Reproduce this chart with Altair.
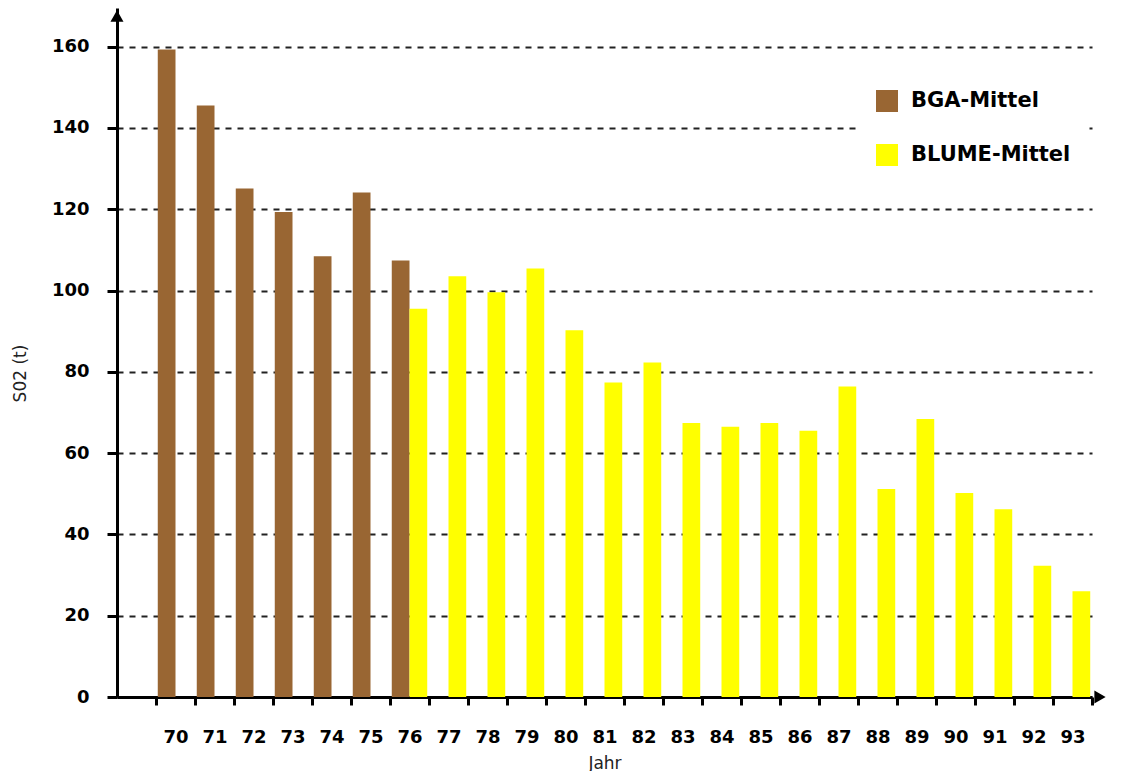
import altair as alt
import pandas as pd

years = [str(y) for y in range(70, 94)]

bga_years = ["70", "71", "72", "73", "74", "75", "76"]
bga_values = [159.3, 145.5, 125.1, 119.3, 108.4, 124.1, 107.4]

blume_years = ["76", "77", "78", "79", "80", "81", "82", "83", "84",
               "85", "86", "87", "88", "89", "90", "91", "92", "93"]
blume_values = [95.5, 103.5, 99.6, 105.4, 90.2, 77.4, 82.3, 67.4, 66.5,
                67.4, 65.5, 76.4, 51.2, 68.4, 50.2, 46.2, 32.3, 26.0]

series_names = ["BGA-Mittel", "BLUME-Mittel"]
series_colors = ["#996633", "#FFFF00"]
y_ticks = [0, 20, 40, 60, 80, 100, 120, 140, 160]

rows = [{"Jahr": y, "Reihe": series_names[0], "SO2": v} for y, v in zip(bga_years, bga_values)]
rows += [{"Jahr": y, "Reihe": series_names[1], "SO2": v} for y, v in zip(blume_years, blume_values)]
df = pd.DataFrame(rows)

W = 975
H = 689

bars = alt.Chart(df).mark_bar(opacity=1, strokeWidth=0).encode(
    x=alt.X("Jahr:N", sort=years,
            scale=alt.Scale(domain=years, paddingInner=0, paddingOuter=0.5, align=1),
            axis=alt.Axis(title="Jahr", labelAngle=0, tickBand="extent",
                          tickSize=8, tickWidth=3, tickColor="black",
                          domainColor="black", domainWidth=3,
                          labelPadding=23, titlePadding=9, grid=False)),
    xOffset=alt.XOffset("Reihe:N", sort=series_names,
                        scale=alt.Scale(domain=series_names, paddingInner=0, paddingOuter=0.1)),
    y=alt.Y("SO2:Q",
            scale=alt.Scale(domain=[0, 169.5], nice=False, zero=True),
            axis=alt.Axis(title="S02 (t)", values=y_ticks, tickSize=10, tickWidth=3,
                          tickColor="black", domainColor="black", domainWidth=3,
                          labelPadding=18, titlePadding=22, titleY=365,
                          grid=True, gridColor="#222222", gridDash=[6, 6], gridWidth=2)),
    color=alt.Color("Reihe:N",
                    scale=alt.Scale(domain=series_names, range=series_colors),
                    legend=alt.Legend(title=None, orient="none", legendX=742, legendY=65,
                                      fillColor="white", padding=17, symbolType="square",
                                      symbolSize=484, symbolStrokeWidth=0, symbolOpacity=1,
                                      rowPadding=32, labelOffset=13,
                                      labelFont="DejaVu Sans", labelFontWeight="bold",
                                      labelFontSize=21, labelColor="black")),
)

arrow_src = alt.Data(values=[{"a": 1}])
y_arrow = alt.Chart(arrow_src).mark_point(
    shape="triangle-up", filled=True, color="black", size=170, opacity=1
).encode(x=alt.value(0), y=alt.value(8))
x_arrow = alt.Chart(arrow_src).mark_point(
    shape="triangle-right", filled=True, color="black", size=170, opacity=1
).encode(x=alt.value(W + 8), y=alt.value(H))

chart = alt.layer(bars, y_arrow, x_arrow).properties(
    width=W, height=H,
    padding={"left": 3, "top": 0, "right": 2, "bottom": 0},
    background="white",
).configure_view(stroke=None).configure_axis(
    labelFont="DejaVu Sans", labelFontWeight="bold", labelFontSize=18, labelColor="black",
    titleFont="DejaVu Sans", titleFontWeight="normal", titleFontSize=17, titleColor="#222222",
)

chart.save("out.html", embed_options={"renderer": "svg", "actions": False})
